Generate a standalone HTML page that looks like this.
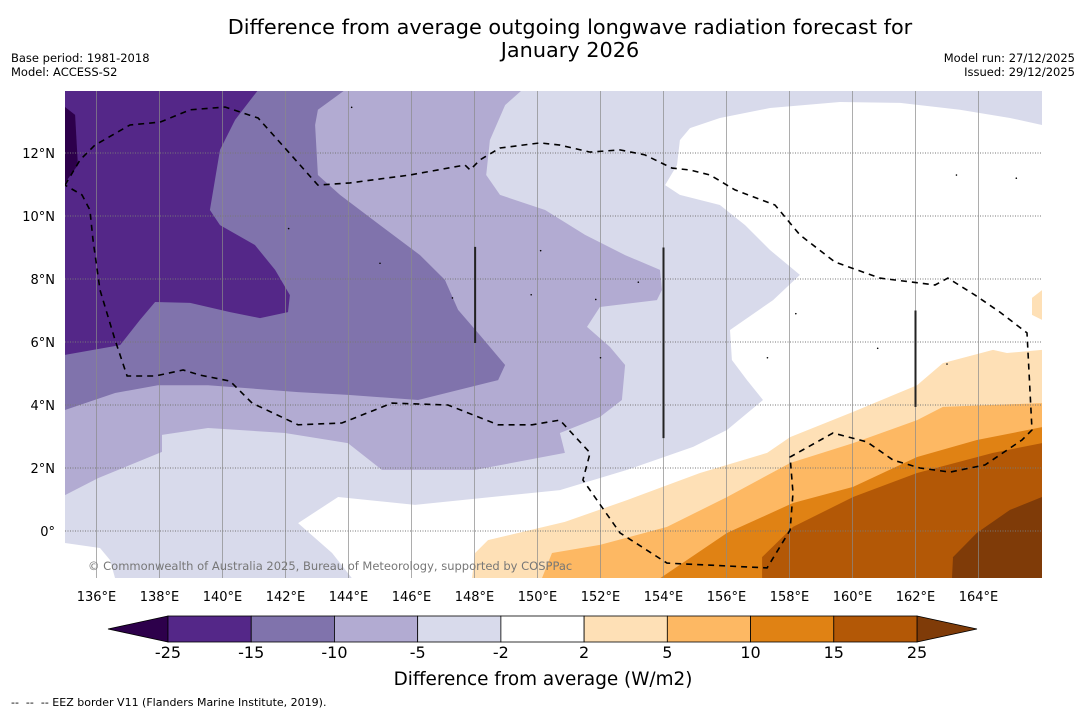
<!DOCTYPE html>
<html><head><meta charset="utf-8">
<style>
body{margin:0;background:#fff;width:1085px;height:713px;overflow:hidden;font-family:"Liberation Sans","DejaVu Sans",sans-serif}
svg{position:absolute;left:0;top:0}
text{font-family:"DejaVu Sans","Liberation Sans",sans-serif}
</style></head>
<body>
<svg id="chart" width="1085" height="713">
<text x="570" y="34" text-anchor="middle" font-size="20.8">Difference from average outgoing longwave radiation forecast for</text>
<text x="570" y="57" text-anchor="middle" font-size="20.8">January 2026</text>
<text x="11" y="62" font-size="11.5">Base period: 1981-2018</text>
<text x="11" y="76" font-size="11.5">Model: ACCESS-S2</text>
<text x="1075" y="62" font-size="11.5" text-anchor="end">Model run: 27/12/2025</text>
<text x="1075" y="76" font-size="11.5" text-anchor="end">Issued: 29/12/2025</text>
<defs><clipPath id="mapclip"><rect x="65" y="91" width="977" height="487"/></clipPath></defs>
<g id="map" clip-path="url(#mapclip)"></g>
<g id="axes"></g>
<g id="cbar"></g>
<text x="543" y="685" text-anchor="middle" font-size="18.4">Difference from average (W/m2)</text>
<text x="11" y="706" font-size="11" xml:space="preserve" style="white-space:pre">--  --  -- EEZ border V11 (Flanders Marine Institute, 2019).</text>
</svg>
<script>
const lonTicks=[136,138,140,142,144,146,148,150,152,154,156,158,160,162,164];
const latTicks=[0,2,4,6,8,10,12];
const levels=[-25,-15,-10,-5,-2,2,5,10,15,25];
const colors=["#542788","#8073ac","#b2abd2","#d8daeb","#ffffff","#fee0b6","#fdb863","#e08214","#b35806"];
const lowColor="#2d004b", highColor="#7f3b08";
const regionMinus5=[[135,14],[149.51,14],[148.97,13.52],[148.49,12.41],[148.37,11.3],[148.81,10.67],[150.24,10.19],[151.51,9.4],[152.78,8.76],[153.89,8.29],[153.95,7.65],[153.79,7.33],[151.98,7.11],[151.57,6.48],[152.3,5.84],[152.78,5.27],[152.68,4.16],[151.98,3.62],[150.71,3.11],[150.87,2.48],[148.02,1.94],[145.06,1.94],[143.98,2.79],[141.98,3.11],[139.54,3.27],[138.08,3.05],[138.08,2.51],[136.05,1.68],[135,1.14]];
const regionMinus10=[[135,14],[143.89,14],[143.03,13.37],[142.94,12.89],[143.03,11.3],[143.73,10.67],[145,9.71],[146.27,8.76],[147.06,7.97],[147.48,7.02],[148.17,6.22],[148.97,5.27],[148.75,4.79],[146.21,4.16],[143.98,4.32],[142.4,4.41],[139.54,4.63],[137.95,4.63],[136.59,4.38],[135,3.84]];
const regionMinus15=[[135,14],[141.13,14],[140.4,13.05],[139.92,12.1],[139.6,10.19],[139.92,9.71],[141.03,9.08],[141.67,8.29],[142.14,7.49],[142.08,6.95],[141.19,6.76],[140.24,6.95],[138.97,7.24],[137.86,7.27],[137.38,6.7],[136.75,5.9],[135,5.59]];
const regionMinus25=[[135,13.46],[135.32,13.21],[135.41,11.62],[135,11.05]];
const regionWhite=[[166.02,12.89],[165,13.11],[163.41,13.37],[161.51,13.59],[159.6,13.62],[157.38,13.43],[155.79,13.11],[154.84,12.79],[154.52,12.41],[154.43,11.62],[154.05,10.98],[154.52,10.67],[155.79,10.35],[156.59,9.71],[157.38,8.92],[158.33,8.13],[157.48,7.33],[156.11,6.38],[156.17,5.43],[156.65,4.79],[157.16,4.16],[156.02,3.21],[154.94,2.67],[152.84,1.94],[150.71,1.3],[146.11,0.83],[143.67,1.08],[142.4,0.25],[143.48,-0.7],[144.11,-1.5],[166.02,-1.5]];
const regionWhite2=[[135,-0.38],[136.11,-0.54],[136.43,-0.92],[136.59,-1.5],[135,-1.5]];
const regionPlus2=[[147.92,-1.5],[148.02,-0.7],[148.43,-0.29],[150.87,0.29],[152.84,0.98],[155.16,1.84],[157.29,2.48],[158.02,2.98],[160.02,3.78],[162.05,4.63],[162.87,5.33],[164.46,5.75],[164.9,5.65],[166.02,5.75],[166.02,-1.5]];
const regionPlus2b=[[166.02,7.65],[165.7,7.4],[165.7,6.86],[166.02,6.7]];
const regionPlus5=[[150.14,-1.5],[150.46,-0.7],[151.98,-0.44],[154.11,0.13],[156.02,1.08],[158.02,2.16],[160.02,2.79],[162.05,3.52],[162.87,3.94],[166.02,4.06],[166.02,-1.5]];
const regionPlus10=[[153.89,-1.5],[156.02,-0.06],[158.11,0.89],[160.02,1.4],[162.05,2.35],[163.95,2.89],[166.02,3.3],[166.02,-1.5]];
const regionPlus15=[[157.13,-1.5],[157.13,-0.83],[158.11,0.13],[160.02,1.08],[162.05,1.84],[164.46,2.48],[166.02,2.79],[166.02,-1.5]];
const regionPlus25=[[163.16,-1.5],[163.19,-0.83],[163.95,-0.06],[165,0.67],[166.02,1.08],[166.02,-1.5]];
const eezBorder=[[135,10.98],[135.48,11.78],[135.95,12.25],[137.06,12.89],[138.02,12.98],[138.97,13.37],[140.08,13.46],[141.13,13.11],[141.98,12.16],[143.03,10.98],[144.05,11.05],[145.95,11.3],[147.7,11.62],[147.86,11.46],[148.17,11.78],[148.81,12.16],[150.08,12.32],[150.71,12.25],[151.67,12.03],[152.62,12.1],[153.41,11.94],[154.27,11.52],[154.84,11.46],[155.48,11.3],[156.27,10.83],[157.54,10.35],[158.33,9.4],[159.44,8.54],[160.87,8.03],[162.62,7.81],[163.03,8.03],[163.89,7.49],[164.68,6.95],[165.54,6.29],[165.7,3.21],[165.38,2.89],[164.21,2.1],[163.1,1.87],[162.14,2.0],[161.29,2.25],[160.46,2.83],[159.38,3.11],[158.02,2.35],[158.11,1.21],[158.02,0.03],[157.29,-1.17],[154.11,-1.02],[152.62,-0.06],[151.44,1.62],[151.67,2.48],[150.71,3.52],[149.83,3.37],[148.75,3.37],[147.16,4.0],[145.38,4.06],[143.79,3.43],[142.4,3.37],[140.94,4.06],[140.24,4.76],[139.29,4.95],[138.75,5.11],[137.86,4.92],[136.97,4.92],[136.59,6.06],[136.11,7.65],[135.89,9.24],[135.79,10.19],[135.54,10.67],[135,10.98]];
const datelineSegs=[[148.02,9.02,5.97],[154.0,9.0,2.95],[162.0,7.0,3.94]];
const islands=[[144.1,13.45],[142.1,9.6],[145.0,8.5],[147.3,7.4],[149.8,7.5],[151.85,7.35],[153.2,7.9],[158.2,6.9],[157.3,5.5],[163.0,5.3],[152.0,5.5],[150.1,8.9],[165.2,11.2],[163.3,11.3],[160.8,5.8]];

const NS="http://www.w3.org/2000/svg";
const lonToX=lon=>65+(lon-135)*31.5;
const latToY=lat=>531-lat*31.5;
const pts=a=>a.map(p=>lonToX(p[0]).toFixed(1)+","+latToY(p[1]).toFixed(1)).join(" ");
const map=document.getElementById("map");
function mk(tag,attrs,parent){const e=document.createElementNS(NS,tag);for(const k in attrs)e.setAttribute(k,attrs[k]);parent.appendChild(e);return e;}

const bg=mk("rect",{x:65,y:91,width:977,height:487,fill:colors[3]},map);


const regs=[[regionMinus5,colors[2],'contour-band-minus10-to-minus5'],[regionMinus10,colors[1],'contour-band-minus15-to-minus10'],[regionMinus15,colors[0],'contour-band-minus25-to-minus15'],[regionMinus25,lowColor,'contour-band-below-minus25'],[regionWhite,colors[4],'contour-band-minus2-to-2'],[regionWhite2,colors[4],'contour-band-minus2-to-2-sw'],[regionPlus2,colors[5],'contour-band-2-to-5'],[regionPlus2b,colors[5],'contour-band-2-to-5-east'],[regionPlus5,colors[6],'contour-band-5-to-10'],[regionPlus10,colors[7],'contour-band-10-to-15'],[regionPlus15,colors[8],'contour-band-15-to-25'],[regionPlus25,highColor,'contour-band-above-25']];
regs.forEach(r=>{
  const p=mk("polygon",{points:pts(r[0]),fill:r[1]},map);
  
  
});
lonTicks.forEach(l=>{
  const g=mk("line",{x1:lonToX(l),x2:lonToX(l),y1:91,y2:578,stroke:"#8a8a8a","stroke-width":0.7},map);
  
  
});
latTicks.forEach(l=>{
  const g=mk("line",{x1:65,x2:1042,y1:latToY(l),y2:latToY(l),stroke:"#777","stroke-width":1,"stroke-dasharray":"1,1.5"},map);
  
  
});
islands.forEach(i=>{
  const c=mk("circle",{cx:lonToX(i[0]),cy:latToY(i[1]),r:0.8,fill:"#000"},map);
  
  
});
const eez=mk("polyline",{points:pts(eezBorder),fill:"none",stroke:"#000","stroke-width":1.6,"stroke-dasharray":"6,5"},map);


datelineSegs.forEach(s=>{
  const l=mk("line",{x1:lonToX(s[0]),x2:lonToX(s[0]),y1:latToY(s[1]),y2:latToY(s[2]),stroke:"#222","stroke-width":2},map);
  
  
});
const cp=mk("text",{x:88,y:570,"font-size":11.5,fill:"#777"},map);
cp.textContent="© Commonwealth of Australia 2025, Bureau of Meteorology, supported by COSPPac";



const axes=document.getElementById("axes");
lonTicks.forEach(l=>{
  const t=mk("text",{x:lonToX(l),y:601,"font-size":13,"text-anchor":"middle"},axes);
  t.textContent=l+"°E";
  
  
});
latTicks.forEach(l=>{
  const t=mk("text",{x:55,y:latToY(l)+5,"font-size":13,"text-anchor":"end"},axes);
  t.textContent=l===0?"0°":l+"°N";
  
  
});

const cb=document.getElementById("cbar");
const cbX0=168,cbW=749,cbY=616,cbH=26,bw=cbW/colors.length;
const lt=mk("polygon",{points:`${cbX0},${cbY} ${cbX0},${cbY+cbH} 108,${cbY+cbH/2}`,fill:lowColor,stroke:"#000","stroke-width":0.8},cb);


const rt=mk("polygon",{points:`${cbX0+cbW},${cbY} ${cbX0+cbW},${cbY+cbH} 977,${cbY+cbH/2}`,fill:highColor,stroke:"#000","stroke-width":0.8},cb);


colors.forEach((c,i)=>{
  const r=mk("rect",{x:cbX0+i*bw,y:cbY,width:bw,height:cbH,fill:c,stroke:"#000","stroke-width":0.8},cb);
  
  
});
levels.forEach((v,i)=>{
  const t=mk("text",{x:cbX0+i*bw,y:658,"font-size":16,"text-anchor":"middle"},cb);
  t.textContent=String(v);
  
  
});
</script>
</body></html>
